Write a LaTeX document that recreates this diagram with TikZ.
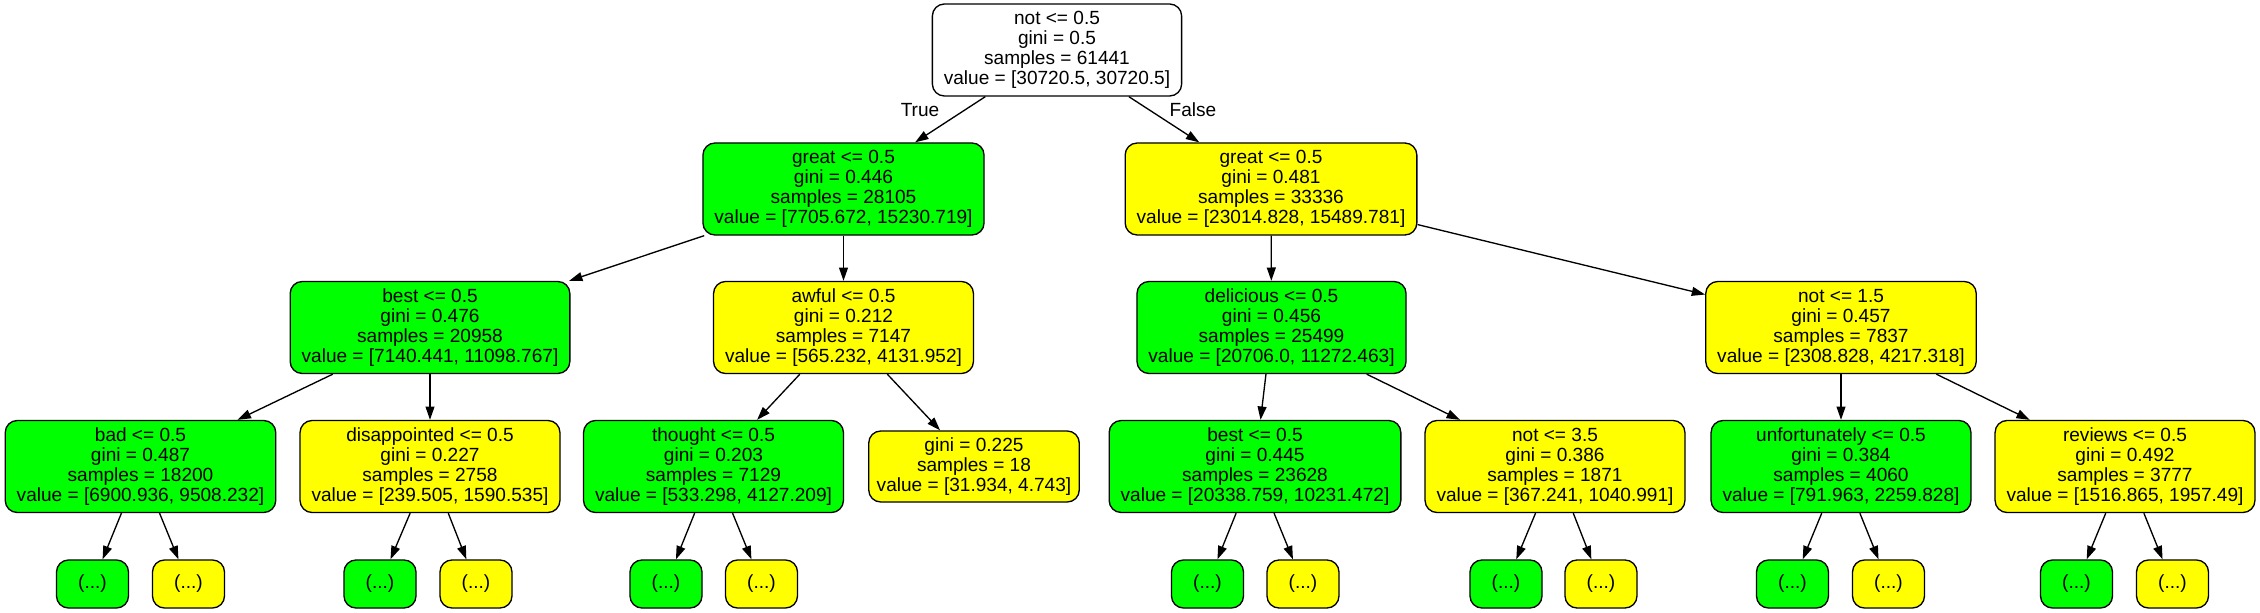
\documentclass[tikz,border=0pt]{standalone}
\usepackage{fontspec}
\setmainfont{Liberation Sans}
\usetikzlibrary{arrows.meta}
\definecolor{treegreen}{RGB}{0,255,0}
\definecolor{treeyellow}{RGB}{255,255,0}
\begin{document}
\begin{tikzpicture}[x=0.75pt,y=-0.75pt,
  box/.style={draw=black, line width=1pt, rounded corners=9pt, align=center,
    inner xsep=8.6pt, inner ysep=0pt, font=\fontsize{14.3}{15}\selectfont},
  four/.style={box, minimum height=69pt},
  three/.style={box, minimum height=53.25pt, inner xsep=6pt},
  leaf/.style={box, minimum height=36pt, minimum width=54pt},
  gn/.style={fill=treegreen},
  yl/.style={fill=treeyellow},
  wh/.style={fill=white},
  edge/.style={draw=black, line width=1pt, -{Triangle[length=10pt,width=6.7pt]}},
  lbl/.style={inner sep=0pt, font=\fontsize{14.3}{15}\selectfont}]
\useasboundingbox (0,0) rectangle (2260,613);

% level 0
\node[four,wh] (root) at (1057,50) {not <= 0.5\\gini = 0.5\\samples = 61441\\value = [30720.5, 30720.5]};
% level 1
\node[four,gn] (g1) at (843.5,189) {great <= 0.5\\gini = 0.446\\samples = 28105\\value = [7705.672, 15230.719]};
\node[four,yl] (y1) at (1271,189) {great <= 0.5\\gini = 0.481\\samples = 33336\\value = [23014.828, 15489.781]};
% level 2
\node[four,gn] (best) at (430,327.5) {best <= 0.5\\gini = 0.476\\samples = 20958\\value = [7140.441, 11098.767]};
\node[four,yl] (awful) at (843.5,327.5) {awful <= 0.5\\gini = 0.212\\samples = 7147\\value = [565.232, 4131.952]};
\node[four,gn] (delic) at (1271.5,327.5) {delicious <= 0.5\\gini = 0.456\\samples = 25499\\value = [20706.0, 11272.463]};
\node[four,yl] (notb) at (1841,327.5) {not <= 1.5\\gini = 0.457\\samples = 7837\\value = [2308.828, 4217.318]};
% level 3
\node[four,gn] (bad) at (140.5,466.5) {bad <= 0.5\\gini = 0.487\\samples = 18200\\value = [6900.936, 9508.232]};
\node[four,yl] (disap) at (430,466.5) {disappointed <= 0.5\\gini = 0.227\\samples = 2758\\value = [239.505, 1590.535]};
\node[four,gn] (thought) at (713.5,466.5) {thought <= 0.5\\gini = 0.203\\samples = 7129\\value = [533.298, 4127.209]};
\node[three,yl] (gleaf) at (974,466.5) {gini = 0.225\\samples = 18\\value = [31.934, 4.743]};
\node[four,gn] (bestb) at (1255,466.5) {best <= 0.5\\gini = 0.445\\samples = 23628\\value = [20338.759, 10231.472]};
\node[four,yl] (notc) at (1555,466.5) {not <= 3.5\\gini = 0.386\\samples = 1871\\value = [367.241, 1040.991]};
\node[four,gn] (unfort) at (1841,466.5) {unfortunately <= 0.5\\gini = 0.384\\samples = 4060\\value = [791.963, 2259.828]};
\node[four,yl] (reviews) at (2125,466.5) {reviews <= 0.5\\gini = 0.492\\samples = 3777\\value = [1516.865, 1957.49]};
% level 4
\node[leaf,gn] (l1) at (92.5,584) {(...)};
\node[leaf,yl] (l2) at (188.5,584) {(...)};
\node[leaf,gn] (l3) at (380,584) {(...)};
\node[leaf,yl] (l4) at (476,584) {(...)};
\node[leaf,gn] (l5) at (666,584) {(...)};
\node[leaf,yl] (l6) at (761.5,584) {(...)};
\node[leaf,gn] (l7) at (1207.5,584) {(...)};
\node[leaf,yl] (l8) at (1303,584) {(...)};
\node[leaf,gn] (l9) at (1506,584) {(...)};
\node[leaf,yl] (l10) at (1601,584) {(...)};
\node[leaf,gn] (l11) at (1792.5,584) {(...)};
\node[leaf,yl] (l12) at (1888.5,584) {(...)};
\node[leaf,gn] (l13) at (2076.5,584) {(...)};
\node[leaf,yl] (l14) at (2172.5,584) {(...)};

% edge labels
\node[lbl] (truelbl) at (920,110) {True};
\node[lbl] (falselbl) at (1193,110) {False};

% edges
\draw[edge] (root) -- (g1);
\draw[edge] (root) -- (y1);
\draw[edge] (g1) -- (best);
\draw[edge] (g1) -- (awful);
\draw[edge] (y1) -- (delic);
\draw[edge] (y1) -- (notb);
\draw[edge] (best) -- (bad);
\draw[edge] (best) -- (disap);
\draw[edge] (awful) -- (thought);
\draw[edge] (awful) -- (gleaf);
\draw[edge] (delic) -- (bestb);
\draw[edge] (delic) -- (notc);
\draw[edge] (notb) -- (unfort);
\draw[edge] (notb) -- (reviews);
\draw[edge] (bad) -- (l1);
\draw[edge] (bad) -- (l2);
\draw[edge] (disap) -- (l3);
\draw[edge] (disap) -- (l4);
\draw[edge] (thought) -- (l5);
\draw[edge] (thought) -- (l6);
\draw[edge] (bestb) -- (l7);
\draw[edge] (bestb) -- (l8);
\draw[edge] (notc) -- (l9);
\draw[edge] (notc) -- (l10);
\draw[edge] (unfort) -- (l11);
\draw[edge] (unfort) -- (l12);
\draw[edge] (reviews) -- (l13);
\draw[edge] (reviews) -- (l14);
\end{tikzpicture}
\end{document}
